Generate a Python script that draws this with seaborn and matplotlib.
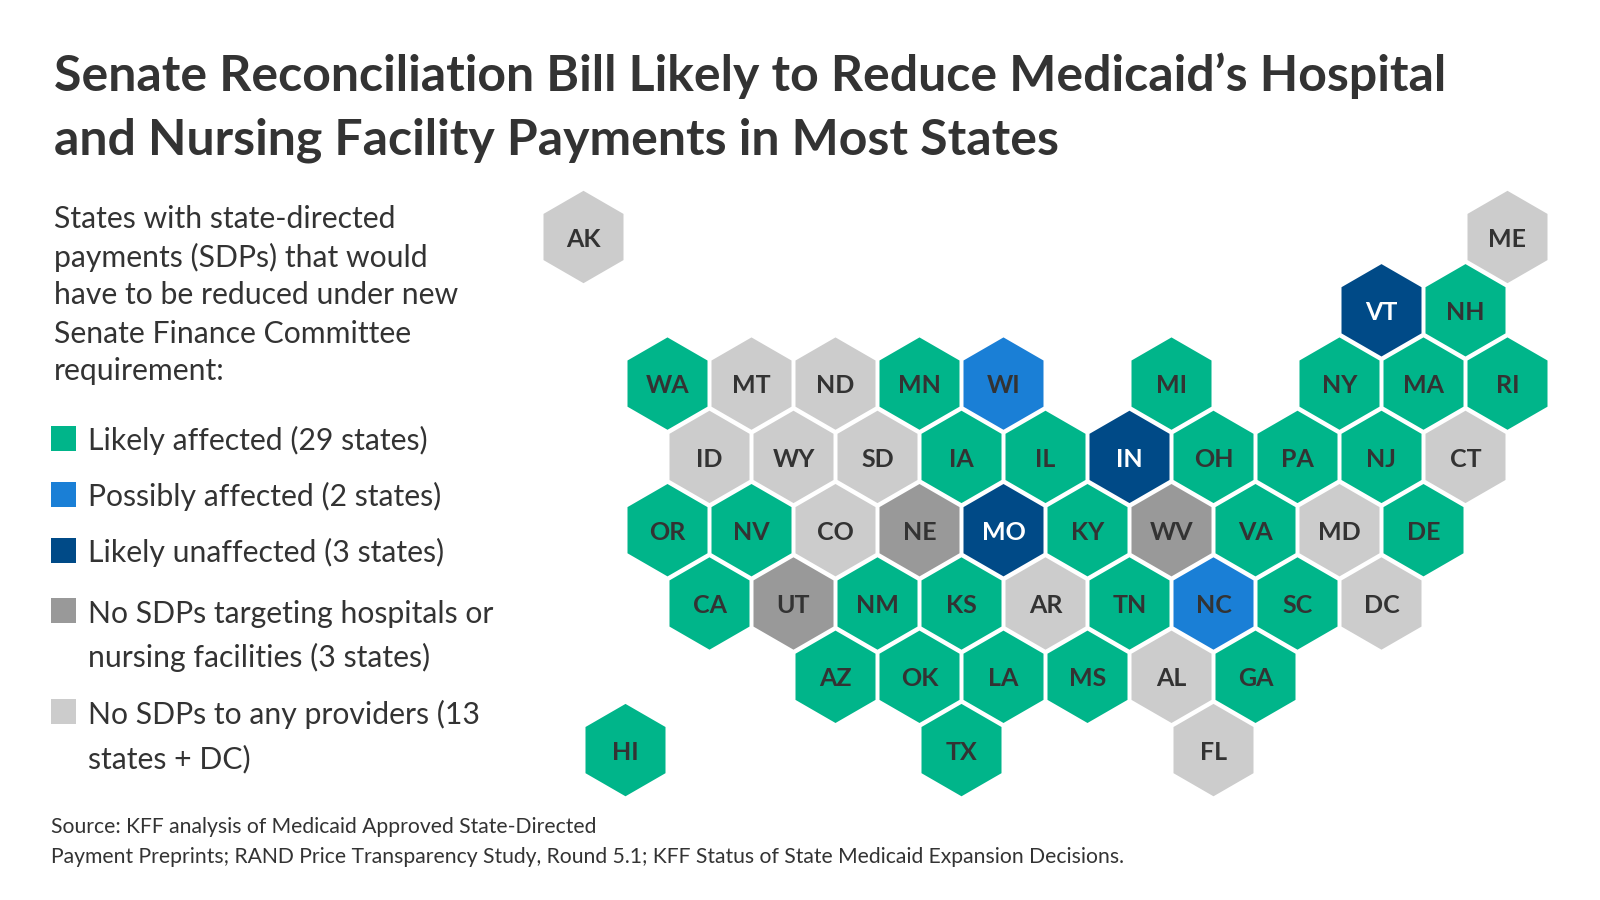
import matplotlib
matplotlib.use('Agg')
import matplotlib.pyplot as plt
import pandas as pd
import seaborn as sns
from matplotlib.patches import Rectangle

# tile grid: col is in half-tile steps, row counts down from the top
states = ['AK', 'ME', 'VT', 'NH',
          'WA', 'MT', 'ND', 'MN', 'WI', 'MI', 'NY', 'MA', 'RI',
          'ID', 'WY', 'SD', 'IA', 'IL', 'IN', 'OH', 'PA', 'NJ', 'CT',
          'OR', 'NV', 'CO', 'NE', 'MO', 'KY', 'WV', 'VA', 'MD', 'DE',
          'CA', 'UT', 'NM', 'KS', 'AR', 'TN', 'NC', 'SC', 'DC',
          'AZ', 'OK', 'LA', 'MS', 'AL', 'GA',
          'HI', 'TX', 'FL']
cols = [0, 22, 19, 21,
        2, 4, 6, 8, 10, 14, 18, 20, 22,
        3, 5, 7, 9, 11, 13, 15, 17, 19, 21,
        2, 4, 6, 8, 10, 12, 14, 16, 18, 20,
        3, 5, 7, 9, 11, 13, 15, 17, 19,
        6, 8, 10, 12, 14, 16,
        1, 9, 15]
rows = [0, 0, 1, 1,
        2, 2, 2, 2, 2, 2, 2, 2, 2,
        3, 3, 3, 3, 3, 3, 3, 3, 3, 3,
        4, 4, 4, 4, 4, 4, 4, 4, 4, 4,
        5, 5, 5, 5, 5, 5, 5, 5, 5,
        6, 6, 6, 6, 6, 6,
        7, 7, 7]
statuses = ['none', 'none', 'unaffected', 'likely',
            'likely', 'none', 'none', 'likely', 'possibly', 'likely', 'likely', 'likely', 'likely',
            'none', 'none', 'none', 'likely', 'likely', 'unaffected', 'likely', 'likely', 'likely', 'none',
            'likely', 'likely', 'none', 'no_hosp', 'unaffected', 'likely', 'no_hosp', 'likely', 'none', 'likely',
            'likely', 'no_hosp', 'likely', 'likely', 'none', 'likely', 'possibly', 'likely', 'none',
            'likely', 'likely', 'likely', 'likely', 'none', 'likely',
            'likely', 'likely', 'none']

palette = {'likely': '#00B58A', 'possibly': '#1A7FD6', 'unaffected': '#004A87',
           'no_hosp': '#999999', 'none': '#CCCCCC'}

title_lines = ['Senate Reconciliation Bill Likely to Reduce Medicaid’s Hospital',
               'and Nursing Facility Payments in Most States']
intro_lines = ['States with state-directed', 'payments (SDPs) that would',
               'have to be reduced under new', 'Senate Finance Committee', 'requirement:']
legend_keys = ['likely', 'possibly', 'unaffected', 'no_hosp', 'none']
legend_labels = [['Likely affected (29 states)'],
                 ['Possibly affected (2 states)'],
                 ['Likely unaffected (3 states)'],
                 ['No SDPs targeting hospitals or', 'nursing facilities (3 states)'],
                 ['No SDPs to any providers (13', 'states + DC)']]
source_lines = ['Source: KFF analysis of Medicaid Approved State-Directed',
                'Payment Preprints; RAND Price Transparency Study, Round 5.1; KFF Status of State Medicaid Expansion Decisions.']

W, H = 1600, 900
TEXT = '#333333'

sns.set_theme(style='white')
plt.rcParams['font.family'] = ['Lato', 'DejaVu Sans']


def put_text(fig, x, y, s, size, weight='normal'):
    fig.text(x / W, 1 - y / H, s, fontsize=size, fontweight=weight, color=TEXT, ha='left', va='center')


df = pd.DataFrame({'state': states, 'col': cols, 'row': rows, 'status': statuses})

fig = plt.figure(figsize=(16, 9), dpi=100, facecolor='white')
ax = fig.add_axes([0, 0, 1, 1])

sns.scatterplot(data=df, x='col', y='row', hue='status', palette=palette, marker='h',
                s=4424, linewidth=0, legend=False, ax=ax)

# one col step is 42 px, one row step 73.3 px
ax.set_xlim(-583.5 / 42, (W - 583.5) / 42)
ax.set_ylim((H - 237) / 73.3, -237 / 73.3)
ax.axis('off')

for _, r in df.iterrows():
    color = 'white' if r['status'] == 'unaffected' else TEXT
    ax.text(r['col'], r['row'] + 0.03, r['state'], ha='center', va='center',
            fontsize=18, fontweight='bold', color=color)

for y, line in zip([76, 140], title_lines):
    put_text(fig, 54, y, line, 36, 'bold')

for y, line in zip([219, 257, 295, 334, 371], intro_lines):
    put_text(fig, 54, y, line, 21.7)

square_tops = [426, 482, 538, 598, 699]
line_ys = [[440], [496], [552], [614, 657], [714, 759]]
for key, top, ys, lines in zip(legend_keys, square_tops, line_ys, legend_labels):
    fig.add_artist(Rectangle((51 / W, 1 - (top + 25) / H), 25 / W, 25 / H,
                             transform=fig.transFigure, facecolor=palette[key], edgecolor='none'))
    for y, line in zip(ys, lines):
        put_text(fig, 88, y, line, 21.7)

for y, line in zip([827, 857], source_lines):
    put_text(fig, 51, y, line, 15.2)

fig.savefig('out.png', dpi=100)
plt.close(fig)
